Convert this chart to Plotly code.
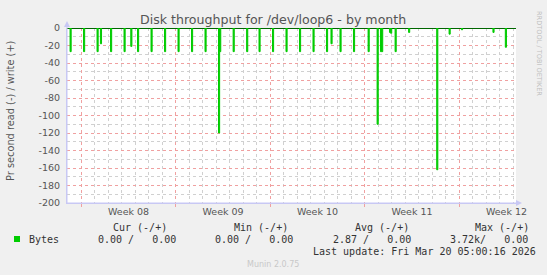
import plotly.graph_objects as go
from datetime import datetime, timedelta

# ---------------- data ----------------
x_start = "2026-02-14 22:35"
x_end = "2026-03-20 05:00"

# read spikes (Bytes per second read), 2-hour samples; start time of each sample
spike_times = [
    "2026-02-15 04:00", "2026-02-16 04:00", "2026-02-17 04:00", "2026-02-17 10:00",
    "2026-02-18 04:00", "2026-02-19 04:00", "2026-02-19 16:00", "2026-02-20 04:00",
    "2026-02-21 04:00", "2026-02-22 04:00", "2026-02-23 04:00", "2026-02-24 04:00",
    "2026-02-25 04:00", "2026-02-26 04:00", "2026-02-26 06:00", "2026-02-27 06:00",
    "2026-02-28 06:00", "2026-03-01 04:00", "2026-03-02 04:00", "2026-03-03 04:00",
    "2026-03-04 04:00", "2026-03-05 04:00", "2026-03-06 04:00", "2026-03-06 12:00",
    "2026-03-07 04:00", "2026-03-08 04:00", "2026-03-09 06:00", "2026-03-09 22:00",
    "2026-03-10 04:00", "2026-03-10 06:00", "2026-03-10 20:00", "2026-03-10 22:00",
    "2026-03-11 06:00", "2026-03-12 06:00", "2026-03-14 08:00", "2026-03-15 06:00",
    "2026-03-16 04:00", "2026-03-18 12:00", "2026-03-19 10:00",
]
spike_read = [
    27, 27, 27, 18,
    27, 27, 21, 27,
    27, 27, 27, 27,
    27, 120, 27, 27,
    27, 27, 27, 27,
    27, 27, 27, 18,
    27, 27, 27, 110,
    27, 27, 5, 6,
    27, 5, 162, 7,
    2, 5, 22,
]
sample_hours = 2

week_starts = ["2026-02-16", "2026-02-23", "2026-03-02", "2026-03-09", "2026-03-16"]
week_label_pos = ["2026-02-19 12:00", "2026-02-26 12:00", "2026-03-05 12:00",
                  "2026-03-12 12:00", "2026-03-19 12:00"]
week_labels = ["Week 08", "Week 09", "Week 10", "Week 11", "Week 12"]

y_tickvals = [0, -20, -40, -60, -80, -100, -120, -140, -160, -180, -200]
y_ticktext = ["0", "-20", "-40", "-60", "-80", "-100", "-120", "-140", "-160", "-180", "-200"]

legend_headers = ["Cur (-/+)", "Min (-/+)", "Avg (-/+)", "Max (-/+)"]
legend_values = ["0.00 /   0.00", "0.00 /   0.00", "2.87 /   0.00", "3.72k/   0.00"]
series_name = "Bytes"
last_update = "Last update: Fri Mar 20 05:00:16 2026"

# ---------------- build step series ----------------
fmt = "%Y-%m-%d %H:%M"
xs = [x_start]
ys = [0]
for i, (t, v) in enumerate(zip(spike_times, spike_read)):
    t0 = datetime.strptime(t, fmt)
    t1 = t0 + timedelta(hours=sample_hours)
    xs.append(t0.strftime(fmt)); ys.append(-v)
    nxt = spike_times[i + 1] if i + 1 < len(spike_times) else None
    if nxt != t1.strftime(fmt):
        xs.append(t1.strftime(fmt)); ys.append(0)
xs.append(x_end); ys.append(0)

GREEN = "#00cc00"
fig = go.Figure()
fig.add_trace(go.Scatter(x=xs, y=ys, mode="lines", line=dict(color=GREEN, width=1, shape="hv"),
                         fill="tozeroy", fillcolor=GREEN, hoverinfo="skip", showlegend=False))
# helper trace for the week grid axis
fig.add_trace(go.Scatter(x=[x_start, x_end], y=[0, 0], xaxis="x2", mode="lines",
                         line=dict(color="rgba(0,0,0,0)"), hoverinfo="skip", showlegend=False))

W, H = 547, 275
L, R, T, B = 67, 516, 28, 203


def px(x):
    return (x - L) / (R - L)


def py(y):
    return (B - y) / (B - T)


AXC = "#c8c8f4"
fig.update_layout(
    width=W, height=H,
    margin=dict(l=L, r=W - R, t=T, b=H - B),
    paper_bgcolor="#f0f0f0", plot_bgcolor="#ffffff",
    font=dict(family="DejaVu Sans", size=9.5, color="#555555"),
    xaxis=dict(range=[x_start, x_end], type="date", tickmode="array",
               tickvals=week_label_pos, ticktext=week_labels, showgrid=False,
               ticks="", showline=True, linecolor=AXC, linewidth=1, zeroline=False,
               tickfont=dict(size=9.5, color="#555555"),
               minor=dict(tick0="2026-02-16", dtick=86400000, showgrid=True,
                          gridcolor="#d0d0d0", griddash="dot", gridwidth=1, ticks="")),
    xaxis2=dict(range=[x_start, x_end], type="date", overlaying="x", anchor="y",
                tickmode="array", tickvals=week_starts, showticklabels=False,
                showgrid=True, gridcolor="#f0a0a0", griddash="dot", gridwidth=1,
                ticks="outside", ticklen=3, tickcolor="#f0a0a0", showline=False, zeroline=False),
    yaxis=dict(range=[-200, 0], tickmode="array", tickvals=y_tickvals, ticktext=y_ticktext,
               showgrid=True, gridcolor="#f0a0a0", griddash="dot", gridwidth=1,
               ticks="outside", ticklen=4, tickcolor="rgba(0,0,0,0)",
               showline=True, linecolor=AXC, linewidth=1,
               zeroline=True, zerolinecolor="#000000", zerolinewidth=1,
               tickfont=dict(size=9.5, color="#555555"),
               minor=dict(dtick=10, showgrid=True, gridcolor="#d0d0d0", griddash="dot",
                          gridwidth=1, ticks="")),
)

anns = []
# title
anns.append(dict(text="Disk throughput for /dev/loop6 - by month", x=px(273), y=py(19),
                 font=dict(size=12.6, color="#555555", family="DejaVu Sans")))
# y axis title
anns.append(dict(text="Pr second read (-) / write (+)", x=px(10), y=py(111), textangle=-90,
                 font=dict(size=9.8, color="#555555", family="DejaVu Sans")))
# right vertical credit
anns.append(dict(text="RRDTOOL / TOBI OETIKER", x=px(539), y=py(53), textangle=90,
                 font=dict(size=6.6, color="#c0c0c0", family="DejaVu Sans")))
MONO = "DejaVu Sans Mono"
nb = lambda s: s.replace(" ", "\u00a0")
head_x = [111, 231.7, 352.7, 472.7]
val_x = [95.7, 213.3, 331, 448.3]
for hx, hd in zip(head_x, legend_headers):
    anns.append(dict(text=nb(hd), x=px(hx), y=py(227.5), xanchor="left",
                     font=dict(size=10, color="#333333", family=MONO)))
for vx, vv in zip(val_x, legend_values):
    anns.append(dict(text=nb(vv), x=px(vx), y=py(239), xanchor="left",
                     font=dict(size=10, color="#333333", family=MONO)))
anns.append(dict(text=series_name, x=px(26.5), y=py(239), xanchor="left",
                 font=dict(size=10, color="#333333", family=MONO)))
anns.append(dict(text=nb(last_update), x=px(311), y=py(251.5), xanchor="left",
                 font=dict(size=10, color="#333333", family=MONO)))
anns.append(dict(text="Munin 2.0.75", x=px(273), y=py(264.5),
                 font=dict(size=8, color="#c8c8c8", family="DejaVu Sans")))
for a in anns:
    a.setdefault("xanchor", "center")
    a.update(xref="paper", yref="paper", yanchor="middle", showarrow=False)
fig.update_layout(annotations=anns)

shapes = [
    # legend colour box
    dict(type="rect", xref="paper", yref="paper", x0=px(14), x1=px(20), y0=py(242), y1=py(236),
         fillcolor=GREEN, line=dict(width=0)),
    # axis arrows
    dict(type="path", xref="paper", yref="paper",
         path=f"M {px(64)} {py(27)} L {px(70)} {py(27)} L {px(67)} {py(21)} Z",
         fillcolor=AXC, line=dict(width=0)),
    dict(type="path", xref="paper", yref="paper",
         path=f"M {px(516)} {py(200)} L {px(516)} {py(206)} L {px(522)} {py(203)} Z",
         fillcolor=AXC, line=dict(width=0)),
    # extend axis lines to the arrows
    dict(type="line", xref="paper", yref="paper", x0=px(67), x1=px(67), y0=py(203), y1=py(23),
         line=dict(color=AXC, width=1)),
    dict(type="line", xref="paper", yref="paper", x0=px(67), x1=px(519), y0=py(203), y1=py(203),
         line=dict(color=AXC, width=1)),
]
fig.update_layout(shapes=shapes)

fig.write_html("out.html")
